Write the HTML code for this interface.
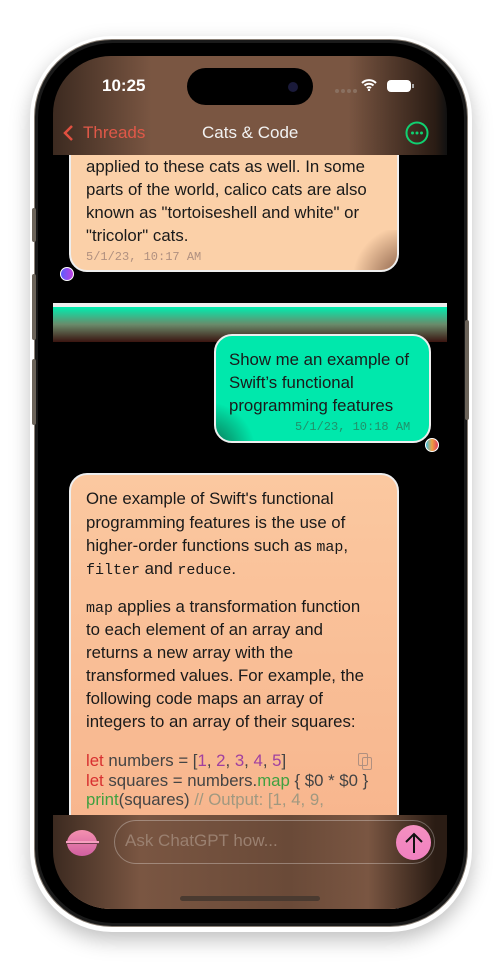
<!DOCTYPE html>
<html><head><style>
*{margin:0;padding:0;box-sizing:border-box}
body{width:500px;height:966px;background:#fff;position:relative;overflow:hidden;font-family:"Liberation Sans",sans-serif}
.a{position:absolute;white-space:nowrap}
.t{position:absolute;white-space:nowrap;font-size:16.8px;line-height:22px;color:#1a1a1a}
.m{font-family:"Liberation Mono",monospace;font-size:15px}
</style></head><body>
<!-- phone -->
<div class="a" style="left:30px;top:36px;width:442px;height:896px;border-radius:82px;box-shadow:0 8px 20px rgba(0,0,0,.25)"></div>
<div class="a" style="left:34px;top:39px;width:434px;height:888px;border-radius:78px;background:#1a1a1a;border:1.5px solid #8a8076"></div>
<div class="a" style="left:32px;top:208px;width:4px;height:34px;background:#6b6359;border-radius:2px"></div>
<div class="a" style="left:32px;top:274px;width:4px;height:66px;background:#6b6359;border-radius:2px"></div>
<div class="a" style="left:32px;top:359px;width:4px;height:66px;background:#6b6359;border-radius:2px"></div>
<div class="a" style="left:465px;top:320px;width:4px;height:100px;background:#6b6359;border-radius:2px"></div>
<div class="a" style="left:38px;top:43px;width:426px;height:880px;border-radius:75px;background:#000"></div>
<!-- screen -->
<div class="a" style="left:53px;top:56px;width:394px;height:853px;border-radius:58px;background:#000;overflow:hidden">
  <div class="a" style="left:16px;top:60px;width:330px;height:156px;background:#fbd0a8;border:2px solid #eee;border-radius:18px;overflow:hidden">
    <div class="a" style="right:-10px;bottom:-10px;width:60px;height:50px;background:radial-gradient(circle at 100% 100%,#8a6048 10%,rgba(251,208,168,0) 70%)"></div>
  </div>
  <div class="a" style="left:7px;top:211px;width:14px;height:14px;border-radius:50%;border:1.5px solid #fff;background:linear-gradient(90deg,#5a5cff,#c040e0)"></div>
  <div class="a" style="left:0;top:247px;width:394px;height:4px;background:#eee"></div>
  <div class="a" style="left:0;top:251px;width:394px;height:35px;background:linear-gradient(#00eeb0,#6a8a6a 50%,#3a1410)"></div>
  <div class="a" style="left:161px;top:278px;width:217px;height:109px;background:#00e8ac;border:2px solid #eee;border-radius:18px;overflow:hidden">
    <div class="a" style="left:-10px;bottom:-10px;width:50px;height:50px;background:radial-gradient(circle at 0% 100%,#0a7050 10%,rgba(0,232,172,0) 70%)"></div>
  </div>
  <div class="a" style="left:372px;top:382px;width:14px;height:14px;border-radius:50%;border:1.5px solid #fff;background:linear-gradient(90deg,#40c0e0,#f0a040,#e04060)"></div>
  <div class="a" style="left:16px;top:417px;width:330px;height:460px;background:linear-gradient(#fbc8a0,#f6b088);border:2px solid #eee;border-radius:18px"></div>
  <div class="a" style="left:0;top:0;width:394px;height:99px;background:linear-gradient(90deg,#3c2a20,#7a5642 25%,#7a5642 75%,#2a1c14 97%,#111)"></div>
  <div class="a" style="left:0;top:759px;width:394px;height:94px;background:linear-gradient(90deg,#3c2a20,#7a5642 22%,#6a4a38 60%,#7a5642 80%,#2a1c14 97%)"></div>
</div>
<!-- status -->
<div class="a" style="left:102px;top:76px;color:#fff;font-size:17px;font-weight:bold">10:25</div>
<div class="a" style="left:187px;top:68px;width:126px;height:37px;border-radius:19px;background:#000"></div>
<div class="a" style="left:288px;top:82px;width:10px;height:10px;border-radius:50%;background:#1a1a3a"></div>
<svg class="a" style="left:334px;top:88px" width="24" height="6"><circle cx="3" cy="3" r="2" fill="#8a7060"/><circle cx="9" cy="3" r="2" fill="#8a7060"/><circle cx="15" cy="3" r="2" fill="#8a7060"/><circle cx="21" cy="3" r="2" fill="#8a7060"/></svg>
<svg class="a" style="left:361px;top:79px" width="16" height="12" viewBox="0 0 16 12"><path d="M1 4a10 10 0 0 1 14 0M3.5 6.5a6.5 6.5 0 0 1 9 0M6 9a3 3 0 0 1 4 0" stroke="#fff" stroke-width="2" fill="none"/><circle cx="8" cy="11" r="1.2" fill="#fff"/></svg>
<div class="a" style="left:387px;top:80px;width:24px;height:12px;border-radius:4px;background:#fff"></div>
<div class="a" style="left:412px;top:84px;width:2px;height:4px;background:#aaa"></div>
<!-- nav -->
<svg class="a" style="left:61px;top:124px" width="14" height="18"><path d="M11 2L4 9l7 7" stroke="#e05040" stroke-width="2.5" fill="none"/></svg>
<div class="a" style="left:83px;top:123px;color:#e05848;font-size:17px">Threads</div>
<div class="a" style="left:202px;top:123px;color:#f2f2f2;font-size:17px">Cats &amp; Code</div>
<svg class="a" style="left:405px;top:121px" width="24" height="24"><circle cx="12" cy="12" r="10.5" stroke="#10d070" stroke-width="2" fill="none"/><circle cx="7.5" cy="12" r="1.5" fill="#10d070"/><circle cx="12" cy="12" r="1.5" fill="#10d070"/><circle cx="16.5" cy="12" r="1.5" fill="#10d070"/></svg>
<!-- bubble1 text -->
<div class="t" style="left:86px;top:156px">applied to these cats as well. In some</div>
<div class="t" style="left:86px;top:179px">parts of the world, calico cats are also</div>
<div class="t" style="left:86px;top:202px">known as "tortoiseshell and white" or</div>
<div class="t" style="left:86px;top:225px">"tricolor" cats.</div>
<div class="a m" style="left:86px;top:250px;font-size:12px;color:#b09080">5/1/23, 10:17 AM</div>
<!-- green text -->
<div class="t" style="left:229px;top:349px">Show me an example of</div>
<div class="t" style="left:229px;top:372px">Swift’s functional</div>
<div class="t" style="left:229px;top:395px">programming features</div>
<div class="a m" style="left:295px;top:420px;font-size:12px;color:#20906a">5/1/23, 10:18 AM</div>
<!-- big text -->
<div class="t" style="left:86px;top:488px">One example of Swift's functional</div>
<div class="t" style="left:86px;top:512px">programming features is the use of</div>
<div class="t" style="left:86px;top:535px">higher-order functions such as <span class="m">map</span>,</div>
<div class="t" style="left:86px;top:558px"><span class="m">filter</span> and <span class="m">reduce</span>.</div>
<div class="t" style="left:86px;top:596px"><span class="m">map</span> applies a transformation function</div>
<div class="t" style="left:86px;top:619px">to each element of an array and</div>
<div class="t" style="left:86px;top:642px">returns a new array with the</div>
<div class="t" style="left:86px;top:665px">transformed values. For example, the</div>
<div class="t" style="left:86px;top:688px">following code maps an array of</div>
<div class="t" style="left:86px;top:711px">integers to an array of their squares:</div>
<div class="t" style="left:86px;top:750px;color:#444"><span style="color:#d83030">let</span> numbers = [<span style="color:#a040a0">1</span>, <span style="color:#a040a0">2</span>, <span style="color:#a040a0">3</span>, <span style="color:#a040a0">4</span>, <span style="color:#a040a0">5</span>]</div>
<div class="a" style="left:358px;top:753px;width:10px;height:13px;border:1.5px solid #b09080;border-radius:2px"></div>
<div class="a" style="left:362px;top:757px;width:10px;height:13px;border:1.5px solid #b09080;border-radius:2px"></div>
<div class="t" style="left:86px;top:770px;color:#444"><span style="color:#d83030">let</span> squares = numbers.<span style="color:#40a040">map</span> { $0 * $0 }</div>
<div class="t" style="left:86px;top:789px;color:#444"><span style="color:#40a040">print</span>(squares) <span style="color:#a09880">// Output: [1, 4, 9,</span></div>
<!-- bottom bar content -->
<div class="a" style="left:67px;top:830px;width:30px;height:26px;border-radius:50%;background:linear-gradient(#f490b0,#d060a0)"></div>
<div class="a" style="left:66px;top:841px;width:33px;height:3px;background:#f6a0c0;border-bottom:1px solid #704050"></div>
<div class="a" style="left:114px;top:820px;width:321px;height:44px;border-radius:22px;border:1.5px solid rgba(255,255,255,.3)"></div>
<div class="a" style="left:125px;top:831px;color:#9a8070;font-size:17px">Ask ChatGPT how...</div>
<div class="a" style="left:396px;top:825px;width:35px;height:35px;border-radius:50%;background:linear-gradient(#f490c0,#f080c0)"></div>
<svg class="a" style="left:403px;top:831px" width="22" height="24"><path d="M11 22V3M3 11l8-8 8 8" stroke="#111" stroke-width="2" fill="none"/></svg>
<div class="a" style="left:180px;top:896px;width:140px;height:5px;border-radius:3px;background:#4a3a30"></div>
</body></html>
